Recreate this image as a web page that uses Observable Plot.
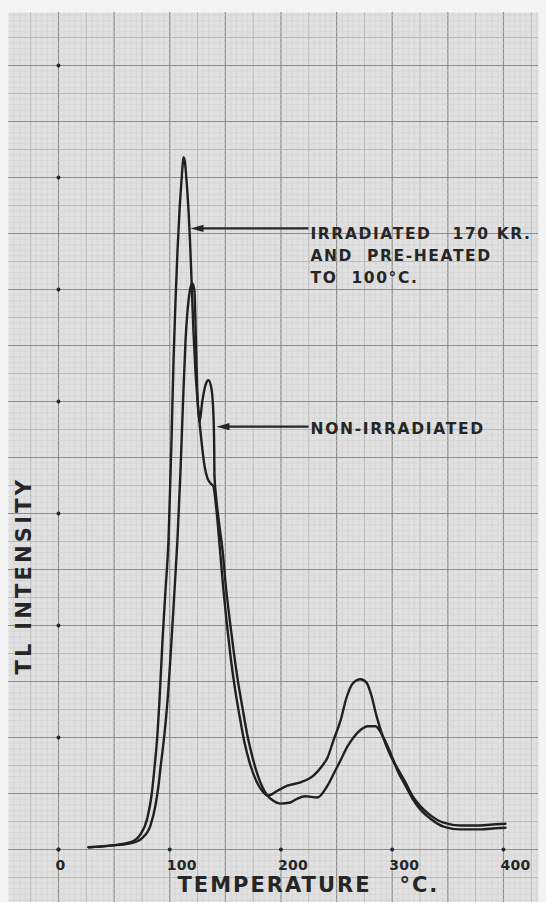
<!DOCTYPE html>
<html><head><meta charset="utf-8">
<script src="https://cdn.jsdelivr.net/npm/d3@7"></script>
<script src="https://cdn.jsdelivr.net/npm/@observablehq/plot@0.6"></script>
<style>
html,body{margin:0;padding:0;background:#f4f4f4;}
svg text{white-space:pre;}
</style></head><body><div id="chart"></div>
<script>
// Temperature (°C), TL intensity (grid units)
const irradiated = [[27.0,0.04],[46.7,0.07],[64.7,0.13],[73.7,0.27],[80.0,0.57],[83.6,0.96],[86.3,1.46],[89.0,2.07],[90.8,2.66],[93.5,3.73],[96.2,4.63],[98.9,5.52],[101.6,7.30],[103.4,8.73],[105.2,9.80],[107.0,10.70],[108.8,11.41],[110.6,11.95],[111.5,12.20],[112.4,12.36],[113.7,12.27],[115.1,11.95],[116.9,11.41],[118.2,10.88],[119.6,10.16],[121.3,9.27],[123.1,8.55],[125.8,7.84],[128.5,7.30],[131.2,6.86],[133.9,6.63],[136.6,6.54],[139.3,6.48],[141.1,6.23],[142.9,5.88],[145.6,5.25],[148.3,4.63],[151.0,4.09],[154.6,3.46],[158.2,2.93],[162.7,2.39],[167.2,1.91],[172.6,1.50],[178.9,1.18],[183.4,1.04],[187.9,0.96],[196.9,1.05],[205.8,1.14],[217.5,1.20],[229.2,1.32],[237.3,1.50],[241.8,1.64],[247.2,1.95],[253.5,2.30],[258.9,2.71],[264.3,2.96],[271.5,3.04],[276.9,2.98],[281.3,2.75],[285.8,2.39],[291.2,2.04],[298.4,1.68],[304.7,1.45],[311.9,1.20],[318.2,0.96],[325.4,0.77],[334.4,0.61],[346.1,0.48],[361.3,0.43],[379.3,0.43],[392.8,0.45],[401.8,0.46]];
const nonIrradiated = [[27.0,0.04],[46.7,0.07],[64.7,0.11],[75.5,0.21],[82.7,0.43],[87.2,0.79],[89.9,1.14],[91.7,1.46],[95.3,2.07],[98.0,2.66],[101.6,3.73],[104.3,4.63],[106.9,5.52],[109.7,6.77],[112.0,8.02],[114.2,9.09],[116.9,9.80],[118.7,10.04],[120.4,10.11],[122.2,9.98],[123.1,9.45],[124.0,8.73],[124.9,8.11],[126.7,7.63],[129.4,8.02],[132.1,8.29],[134.8,8.38],[137.5,8.23],[139.3,7.75],[140.0,7.13],[140.2,6.68],[141.6,6.32],[144.0,5.88],[147.5,5.34],[150.4,4.71],[154.0,4.09],[157.6,3.52],[161.2,3.02],[165.5,2.52],[169.8,2.04],[174.0,1.68],[179.2,1.32],[183.4,1.11],[187.9,0.96],[192.4,0.88],[199.6,0.82],[208.5,0.84],[214.8,0.91],[222.0,0.95],[232.8,0.93],[241.8,1.14],[248.1,1.38],[253.5,1.59],[259.8,1.84],[265.2,2.00],[273.3,2.16],[277.8,2.20],[284.9,2.20],[292.1,2.00],[298.4,1.73],[304.7,1.41],[311.9,1.14],[318.2,0.91],[325.4,0.71],[334.4,0.55],[346.1,0.41],[361.3,0.36],[379.3,0.36],[392.8,0.38],[401.8,0.39]];

const xTicks = [0, 100, 200, 300, 400];
const xTickLabels = ["0", "100", "200", "300", "400"];
const yDots = [0, 2, 4, 6, 8, 10, 12, 14];

const labels = [
  {text: "IRRADIATED   170 KR.\nAND  PRE-HEATED\nTO  100°C.", x: 226.5, y: 10.64, tipX: 118.7, tipY: 11.09},
  {text: "NON-IRRADIATED", x: 226.5, y: 7.55, tipX: 142.0, tipY: 7.55}
];
const xTitle = "TEMPERATURE   °C.";
const yTitle = "TL INTENSITY";

const rows = [
  ...irradiated.map(([t, v]) => ({series: "irradiated", t, v})),
  ...nonIrradiated.map(([t, v]) => ({series: "non-irradiated", t, v}))
];

const gx = d3.range(-8, 87).map(i => ({v: i * 5, k: i % 10 === 0 ? 2 : i % 5 === 0 ? 1 : 0}));
const gy = d3.range(-9, 150).map(i => ({v: i / 10, k: i % 10 === 0 ? 2 : i % 5 === 0 ? 1 : 0}));
const gridStroke = ["#d0d0d0", "#b4b4b4", "#8e8e8e"];
const gridWidth = [0.6, 0.9, 1.2];

// left-pointing arrowhead with its tip at the anchor point
const arrowHead = {draw(ctx) { ctx.moveTo(0, 0); ctx.lineTo(13, -3.6); ctx.lineTo(13, 3.6); ctx.closePath(); }};

const font = "DejaVu Sans, Verdana, sans-serif";
const ink = "#262626";

const chart = Plot.plot({
  width: 546,
  height: 902,
  marginLeft: 8,
  marginRight: 8,
  marginTop: 12,
  marginBottom: 0,
  x: {domain: [-44.94, 431.5], axis: null},
  y: {domain: [-0.946, 14.946], axis: null},
  style: {fontFamily: font, background: "transparent"},
  marks: [
    Plot.frame({fill: "#e1e1e1", stroke: null}),
    ...[0, 1, 2].map(k => Plot.ruleX(gx.filter(d => d.k === k), {x: "v", stroke: gridStroke[k], strokeWidth: gridWidth[k]})),
    ...[0, 1, 2].map(k => Plot.ruleY(gy.filter(d => d.k === k), {y: "v", stroke: gridStroke[k], strokeWidth: gridWidth[k]})),
    Plot.dot(xTicks, {x: d => d, y: 0, r: 2, fill: ink, stroke: null}),
    Plot.dot(yDots, {x: 0, y: d => d, r: 2, fill: ink, stroke: null}),
    Plot.text(xTicks, {x: d => d, y: -0.29, text: (d, i) => xTickLabels[i], textAnchor: "start", dx: -3, fontSize: 14, fontWeight: "bold", fill: ink}),
    Plot.line(rows, {x: "t", y: "v", z: "series", curve: "monotone-x", stroke: "#202020", strokeWidth: 2.4}),
    Plot.link(labels, {x1: d => d.x - 1.8, y1: "tipY", x2: d => d.tipX + 8, y2: "tipY", stroke: ink, strokeWidth: 2.2}),
    Plot.dot(labels, {x: "tipX", y: "tipY", symbol: arrowHead, r: 4, fill: ink, stroke: null}),
    Plot.text(labels, {x: "x", y: "y", text: "text", textAnchor: "start", lineAnchor: "middle", lineHeight: 1.42, fontSize: 15.5, fontWeight: "bold", fill: ink}),
    Plot.text([xTitle], {x: 107, y: -0.64, text: d => d, textAnchor: "start", fontSize: 21, fontWeight: "bold", fill: ink}),
    Plot.text([yTitle], {x: -30.6, y: 4.89, text: d => d, rotate: -90, fontSize: 21, fontWeight: "bold", fill: ink})
  ]
});

// letter spacing per text
const spacing = new Map([[xTitle, "2px"], [yTitle, "3.2px"], ["NON-IRRADIATED", "1.7px"]]);
d3.select(chart).selectAll("text").each(function() {
  const t = this.textContent;
  if (spacing.has(t)) this.setAttribute("letter-spacing", spacing.get(t));
  else if (t.startsWith("IRRADIATED")) this.setAttribute("letter-spacing", "1.6px");
  else if (xTickLabels.includes(t)) this.setAttribute("letter-spacing", "0.3px");
});
document.getElementById("chart").appendChild(chart);
</script>
</body></html>
